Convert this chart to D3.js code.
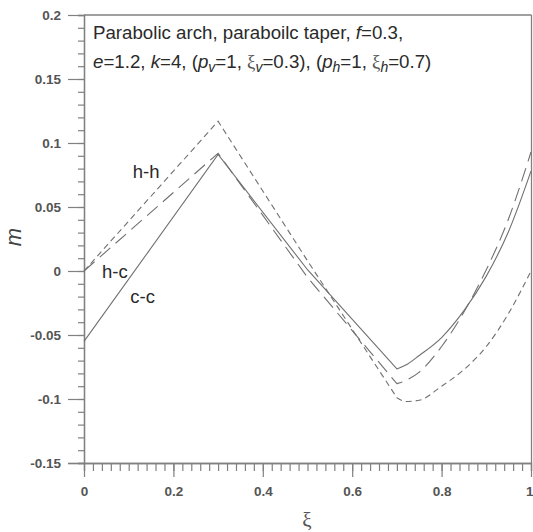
<!DOCTYPE html>
<html><head><meta charset="utf-8">
<script src="https://cdn.jsdelivr.net/npm/d3@7"></script>
<style>body{margin:0;background:#fff}svg{display:block}</style>
</head><body>
<script>
// ---- data ----
const xi = [0, 0.3, 0.5, 0.7, 0.72, 0.75, 0.8, 0.85, 0.9, 0.95, 1.0];
const mCC = [-0.055, 0.091, 0.001, -0.0765, -0.0735, -0.066, -0.052, -0.031, -0.004, 0.031, 0.078];
const mHC = [0, 0.092, -0.005, -0.088, -0.0855, -0.079, -0.059, -0.032, 0.001, 0.041, 0.093];
const mHH = [0, 0.117, 0.008, -0.099, -0.102, -0.101, -0.090, -0.077, -0.059, -0.033, 0.0];
const seriesNames = ["c-c", "h-c", "h-h"];
const xTickVals = [0, 0.2, 0.4, 0.6, 0.8, 1];
const xTickLabels = ["0", "0.2", "0.4", "0.6", "0.8", "1"];
const yTickVals = [-0.15, -0.1, -0.05, 0, 0.05, 0.1, 0.15, 0.2];
const yTickLabels = ["-0.15", "-0.1", "-0.05", "0", "0.05", "0.1", "0.15", "0.2"];
const labelPos = [[0.131, -0.0203], [0.069, 0.0], [0.139, 0.078]]; // c-c, h-c, h-h label anchors (data units)

const W = 533, H = 532;
const x = d3.scaleLinear().domain([0, 1]).range([84, 531]);
const y = d3.scaleLinear().domain([-0.15, 0.2]).range([463, 15]);

const svg = d3.select("body").append("svg").attr("width", W).attr("height", H);
const axisCol = "#808080", lineCol = "#707070", txtCol = "#2a2a2a";
const sans = "Liberation Sans, Arial, sans-serif";

// frame top/right
svg.append("line").attr("x1", 84).attr("x2", 531.5).attr("y1", 15).attr("y2", 15)
  .attr("stroke", axisCol).attr("stroke-width", 1.3);
svg.append("line").attr("x1", 531.5).attr("x2", 531.5).attr("y1", 15).attr("y2", 463)
  .attr("stroke", axisCol).attr("stroke-width", 1.3);

// minor ticks
const xMinor = d3.range(0, 1.0001, 0.02);
const yMinor = d3.range(-0.15, 0.2001, 0.01);
const gxm = svg.append("g").attr("transform", "translate(0,463)")
  .call(d3.axisBottom(x).tickValues(xMinor).tickSize(8).tickFormat(""));
const gym = svg.append("g").attr("transform", "translate(84,0)")
  .call(d3.axisLeft(y).tickValues(yMinor).tickSize(6).tickFormat(""));
// major ticks
const gx = svg.append("g").attr("transform", "translate(0,463)")
  .call(d3.axisBottom(x).tickValues(xTickVals).tickSize(14).tickPadding(9)
    .tickFormat((d, i) => xTickLabels[i]));
const gy = svg.append("g").attr("transform", "translate(84,0)")
  .call(d3.axisLeft(y).tickValues(yTickVals).tickSize(16).tickPadding(7)
    .tickFormat((d, i) => yTickLabels[i]));
[gxm, gym, gx, gy].forEach(g => {
  g.select(".domain").attr("stroke", axisCol).attr("stroke-width", 1.3);
  g.selectAll(".tick line").attr("stroke", axisCol).attr("stroke-width", 1.2);
  g.selectAll("text").attr("fill", "#555").attr("font-family", sans)
    .attr("font-size", 13.5).attr("font-weight", "bold");
});
gx.select(".domain").attr("d", "M68,0.5H531.5");
gy.select(".domain").attr("d", "M0.5,15V463");
// keep last x label inside the page
gx.selectAll(".tick text").filter(d => d === 1).attr("text-anchor", "end").attr("dx", 2);

// curves: straight segments up to 0.7, smooth afterwards
function pathFor(vals) {
  const pts = xi.map((d, i) => [x(d), y(vals[i])]);
  const k = xi.indexOf(0.7);
  const lin = d3.line().curve(d3.curveLinear)(pts.slice(0, k + 1));
  const sm = d3.line().curve(d3.curveMonotoneX)(pts.slice(k));
  return lin + sm.replace(/^M/, "L");
}
const series = [mCC, mHC, mHH];
const dashes = [null, "14,7", "6,4"];
series.forEach((s, i) => {
  svg.append("path").attr("d", pathFor(s)).attr("fill", "none")
    .attr("stroke", lineCol).attr("stroke-width", 1.1)
    .attr("stroke-dasharray", dashes[i]);
});

// series labels
seriesNames.forEach((n, i) => {
  svg.append("text").attr("x", x(labelPos[i][0])).attr("y", y(labelPos[i][1]))
    .attr("text-anchor", "middle").attr("dominant-baseline", "central")
    .attr("font-family", sans).attr("font-size", 18.5)
    .attr("fill", txtCol).text(n);
});

// title lines
const t1 = svg.append("text").attr("x", 93).attr("y", 39)
  .attr("font-family", sans).attr("font-size", 18.7).attr("fill", txtCol);
t1.append("tspan").text("Parabolic arch, paraboilc taper, ");
t1.append("tspan").attr("font-style", "italic").text("f");
t1.append("tspan").text("=0.3,");

const t2 = svg.append("text").attr("x", 93).attr("y", 68)
  .attr("font-family", sans).attr("font-size", 18.7).attr("fill", txtCol);
const parts = [
  ["e", "i"], ["=1.2, ", ""], ["k", "i"], ["=4, (", ""], ["p", "i"], ["v", "s"], ["=1, ", ""],
  ["ξ", "g"], ["v", "s"], ["=0.3), (", ""], ["p", "i"], ["h", "s"], ["=1, ", ""],
  ["ξ", "g"], ["h", "s"], ["=0.7)", ""]
];
let prevSub = false;
parts.forEach(([s, t]) => {
  const sp = t2.append("tspan").text(s);
  if (t === "i") sp.attr("font-style", "italic");
  if (t === "g") sp.attr("font-family", "Liberation Serif, serif").attr("fill", "#555");
  if (t === "s") { sp.attr("font-style", "italic").attr("font-size", 14).attr("dy", prevSub ? 0 : 4); }
  else if (prevSub) sp.attr("dy", -4);
  prevSub = (t === "s");
});

// axis titles
svg.append("text").attr("transform", "translate(21,237) rotate(-90)")
  .attr("text-anchor", "middle").attr("font-family", sans)
  .attr("font-style", "italic").attr("font-size", 22).attr("fill", "#444").text("m");
svg.append("text").attr("x", 307).attr("y", 527).attr("text-anchor", "middle")
  .attr("font-family", "Liberation Serif, serif").attr("font-size", 21).attr("fill", "#555").text("ξ");
</script>
</body></html>
